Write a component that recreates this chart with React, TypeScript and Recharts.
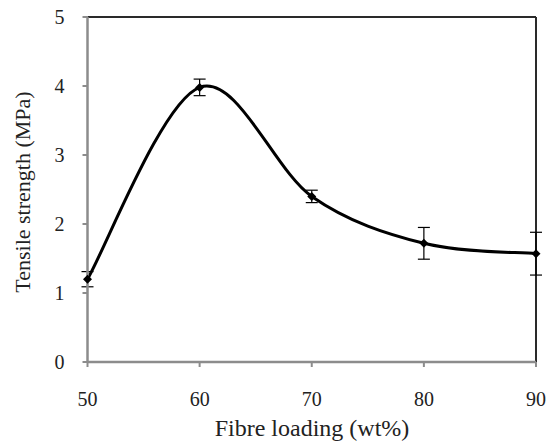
import React from "react";
import { LineChart, Line, XAxis, YAxis, ErrorBar, ReferenceLine, Label } from "recharts";

const fibreLoading = [50, 60, 70, 80, 90];
const tensileStrength = [1.2, 3.98, 2.4, 1.72, 1.57];
const strengthError = [0.11, 0.12, 0.09, 0.23, 0.31];
const xTicks = [50, 60, 70, 80, 90];
const yTicks = [0, 1, 2, 3, 4, 5];

const data = fibreLoading.map((x, i) => ({
  x,
  y: tensileStrength[i],
  err: strengthError[i],
}));

const FONT = "'Times New Roman', Times, 'Liberation Serif', serif";

// Spreadsheet-style smoothed line: cubic bezier segments with
// Catmull-Rom control points, end points repeated.
const smoothCurve = (context: any) => {
  let xs: number[] = [];
  let ys: number[] = [];
  return {
    areaStart() {},
    areaEnd() {},
    lineStart() {
      xs = [];
      ys = [];
    },
    point(x: number, y: number) {
      xs.push(+x);
      ys.push(+y);
    },
    lineEnd() {
      const n = xs.length;
      if (!n) return;
      context.moveTo(xs[0], ys[0]);
      for (let i = 0; i < n - 1; i++) {
        const a = Math.max(i - 1, 0);
        const d = Math.min(i + 2, n - 1);
        const c1x = xs[i] + (xs[i + 1] - xs[a]) / 6;
        const c1y = ys[i] + (ys[i + 1] - ys[a]) / 6;
        const c2x = xs[i + 1] - (xs[d] - xs[i]) / 6;
        const c2y = ys[i + 1] - (ys[d] - ys[i]) / 6;
        context.bezierCurveTo(c1x, c1y, c2x, c2y, xs[i + 1], ys[i + 1]);
      }
    },
  };
};

const Diamond = (props: any) => {
  const { cx, cy } = props;
  if (cx == null || cy == null) return null;
  const r = 4.5;
  return (
    <polygon
      key={props.key ?? `d-${cx}`}
      points={`${cx},${cy - r} ${cx + r},${cy} ${cx},${cy + r} ${cx - r},${cy}`}
      fill="#000"
    />
  );
};

const tickStyle = { fontFamily: FONT, fontSize: 20, fill: "#222" };

export default function App() {
  return (
    <div style={{ position: "absolute", left: 0, top: 0, background: "#fff" }}>
      <LineChart
        width={548}
        height={443}
        data={data}
        margin={{ top: 17, right: 12, bottom: 21, left: 27.5 }}
      >
        <XAxis
          dataKey="x"
          type="number"
          domain={[50, 90]}
          ticks={xTicks}
          height={60}
          axisLine={{ stroke: "#8c8c8c", strokeWidth: 2.5 }}
          tickLine={{ stroke: "#8c8c8c", strokeWidth: 2 }}
          tickSize={5}
          tickMargin={25}
          tick={tickStyle}
        >
          <Label
            content={() => (
              <text
                x={312}
                y={436}
                textAnchor="middle"
                fontFamily={FONT}
                fontSize={24}
                fill="#222"
              >
                Fibre loading (wt%)
              </text>
            )}
          />
        </XAxis>
        <YAxis
          type="number"
          domain={[0, 5]}
          ticks={yTicks}
          width={60}
          axisLine={{ stroke: "#8c8c8c", strokeWidth: 2.5 }}
          tickLine={{ stroke: "#8c8c8c", strokeWidth: 2 }}
          tickSize={5}
          tickMargin={18}
          tick={tickStyle}
        >
          <Label
            content={() => (
              <text
                x={30}
                y={192}
                textAnchor="middle"
                transform="rotate(-90, 30, 192)"
                fontFamily={FONT}
                fontSize={22}
                fill="#222"
              >
                Tensile strength (MPa)
              </text>
            )}
          />
        </YAxis>
        <ReferenceLine y={5} stroke="#2a2a2a" strokeWidth={2} />
        <ReferenceLine x={90} stroke="#2a2a2a" strokeWidth={2} />
        <Line
          dataKey="y"
          type={smoothCurve as any}
          stroke="#000"
          strokeWidth={3}
          dot={Diamond}
          activeDot={false}
          isAnimationActive={false}
        >
          <ErrorBar dataKey="err" width={6} stroke="#000" strokeWidth={1.2} direction="y" />
        </Line>
      </LineChart>
    </div>
  );
}
